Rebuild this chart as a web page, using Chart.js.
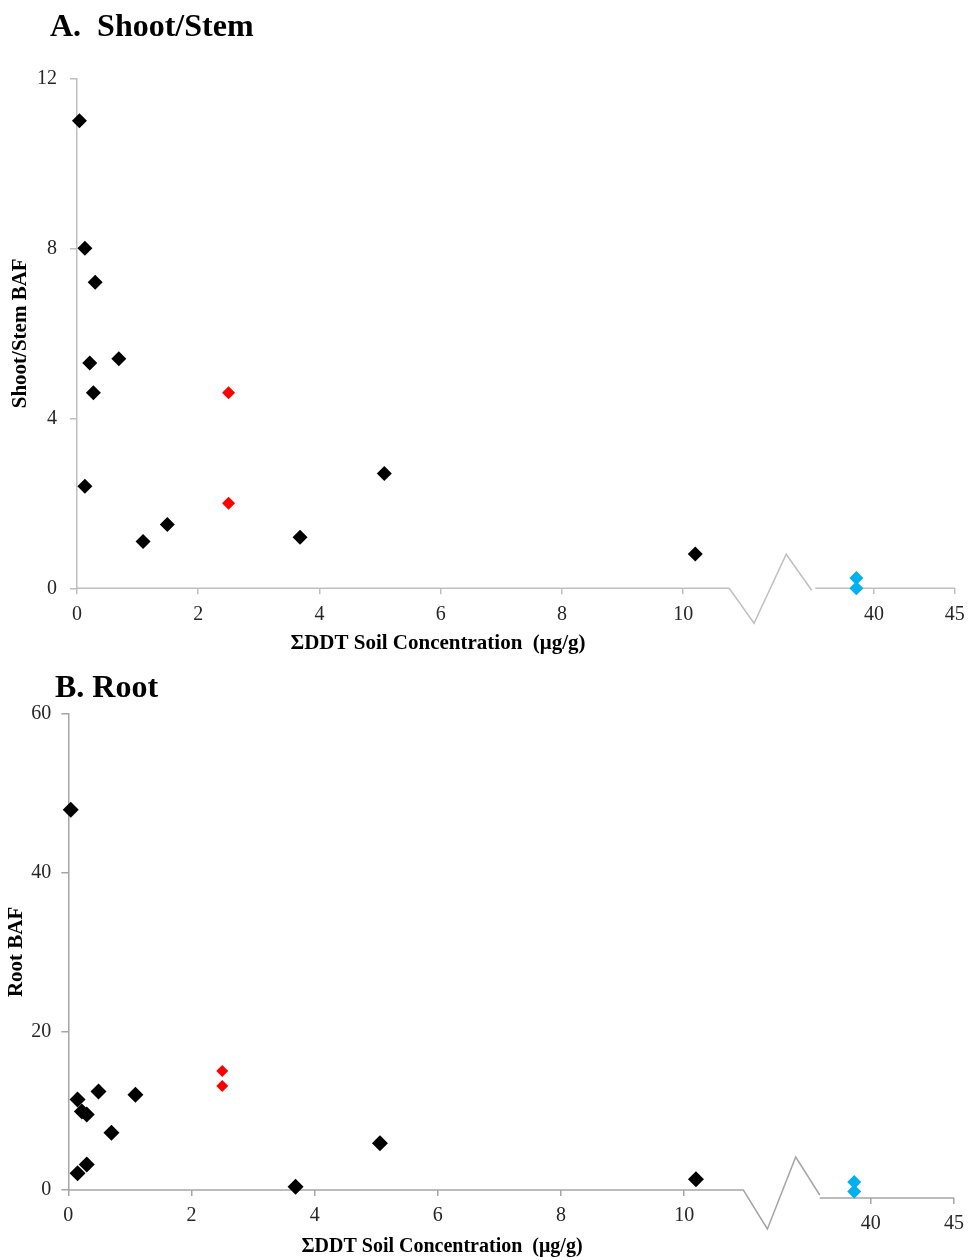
<!DOCTYPE html>
<html>
<head>
<meta charset="utf-8">
<title>BAF vs soil DDT</title>
<script src="https://cdn.jsdelivr.net/npm/chart.js@4/dist/chart.umd.min.js"></script>
<style>
  body { margin: 0; background: #fff; }
  canvas { display: block; }
</style>
</head>
<body>
<canvas id="chartShoot" width="968" height="660"></canvas>
<canvas id="chartRoot" width="968" height="600"></canvas>
<script>
// soil ΣDDT (ug/g) against bioaccumulation factor
const shootSoil = [0.04, 0.13, 0.30, 0.21, 0.69, 0.27, 0.13, 1.09, 1.49, 3.68, 5.07, 10.2];
const shootBaf = [11.0, 8.0, 7.2, 5.3, 5.4, 4.6, 2.4, 1.1, 1.5, 1.2, 2.7, 0.81];
const shootRedSoil = [2.5, 2.5];
const shootRedBaf = [4.6, 2.0];
const shootBlueSoil = [38.9, 38.9];
const shootBlueBaf = [0.24, 0.0];

const rootSoil = [0.04, 0.15, 0.22, 0.30, 0.49, 1.09, 0.70, 0.30, 0.15, 3.69, 5.06, 10.19];
const rootBaf = [47.9, 11.4, 9.9, 9.5, 12.4, 12.0, 7.2, 3.2, 2.1, 0.4, 5.9, 1.35];
const rootRedSoil = [2.5, 2.5];
const rootRedBaf = [15.0, 13.1];
const rootBlueSoil = [39.0, 39.0];
const rootBlueBaf = [1.0, -0.2];

const xTicksLow = [0, 2, 4, 6, 8, 10];
const xTicksHigh = [40, 45];
const shootYTicks = [0, 4, 8, 12];
const rootYTicks = [0, 20, 40, 60];

const serif = "'Liberation Serif', 'Times New Roman', serif";
const xTitle = "ΣDDT Soil Concentration  (μg/g)";

// everything past the break gets squeezed into [hiStart, hiEnd]
function brokenAxis(hiStart, hiEnd) {
  const k = (hiEnd - hiStart) / (xTicksHigh[1] - xTicksHigh[0]);
  return (v) => (v < 20 ? v : hiStart + (v - xTicksHigh[0]) * k);
}

function points(xs, ys, toDisp) {
  return xs.map((x, i) => ({ x: toDisp(x), y: ys[i] }));
}

// keep the plot area exactly where layout.padding puts it
function noOverflow(scale) {
  scale.paddingLeft = 0;
  scale.paddingRight = 0;
  scale.paddingTop = 0;
  scale.paddingBottom = 0;
}

// gray x axis line with the zigzag break
const brokenAxisLine = {
  id: "brokenAxisLine",
  beforeDatasetsDraw(chart, args, opts) {
    const { ctx, chartArea, scales } = chart;
    const x = scales.x;
    const y0 = scales.y.getPixelForValue(0);
    const yr = scales.y.getPixelForValue(opts.rightBase);
    ctx.save();
    ctx.strokeStyle = opts.color;
    ctx.lineWidth = 1.5;
    ctx.beginPath();
    ctx.moveTo(chartArea.left, y0);
    ctx.lineTo(x.getPixelForValue(opts.zig[0][0]), y0);
    opts.zig.slice(1).forEach(([dx, dy]) => {
      ctx.lineTo(x.getPixelForValue(dx), y0 + dy);
    });
    ctx.stroke();
    ctx.beginPath();
    ctx.moveTo(x.getPixelForValue(opts.resume), yr);
    ctx.lineTo(chartArea.right, yr);
    ctx.stroke();
    ctx.restore();
  },
};

// panel heading and x axis title
const panelText = {
  id: "panelText",
  afterDraw(chart, args, opts) {
    const ctx = chart.ctx;
    ctx.save();
    ctx.fillStyle = "#000";
    ctx.textBaseline = "alphabetic";
    ctx.font = "bold 32px " + serif;
    ctx.textAlign = "left";
    ctx.fillText(opts.heading, opts.headingX, opts.headingY);
    ctx.font = "bold " + opts.titleSize + "px " + serif;
    ctx.textAlign = "center";
    ctx.fillText(xTitle, opts.titleX, opts.titleY);
    ctx.restore();
  },
};

function makeChart(canvasId, setup) {
  const toDisp = brokenAxis(setup.hiStart, setup.hiEnd);
  const yTicks = setup.yTicks;
  const tickFont = { family: serif, size: 20 };

  const datasets = [
    { data: points(setup.black[0], setup.black[1], toDisp), backgroundColor: "#000", pointRadius: setup.blackR },
    { data: points(setup.red[0], setup.red[1], toDisp), backgroundColor: "#ff0000", pointRadius: setup.redR },
    { data: points(setup.blue[0], setup.blue[1], toDisp), backgroundColor: "#00b0f0", pointRadius: setup.blueR },
  ].map((d) => ({ ...d, pointStyle: "rectRot", borderWidth: 0, clip: false }));

  const xCommon = {
    type: "linear",
    min: 0,
    max: setup.hiEnd,
    border: { display: false },
    grid: { drawOnChartArea: false, drawTicks: true, tickLength: 6, color: setup.axisColor, lineWidth: 1.5 },
    ticks: { font: tickFont, color: "#262626", padding: 8, autoSkip: false, maxRotation: 0 },
  };

  return new Chart(document.getElementById(canvasId), {
    type: "scatter",
    data: { datasets: datasets },
    options: {
      responsive: false,
      animation: false,
      events: [],
      layout: { padding: { top: setup.top, right: setup.right, left: 0, bottom: 0 } },
      scales: {
        x: {
          ...xCommon,
          position: "bottom",
          afterFit: (scale) => { scale.height = setup.bottom; noOverflow(scale); },
          afterBuildTicks: (scale) => { scale.ticks = xTicksLow.map((v) => ({ value: toDisp(v) })); },
          ticks: { ...xCommon.ticks, callback: (val, i) => String(xTicksLow[i]) },
        },
        x2: {
          ...xCommon,
          position: { y: setup.rightBase },
          afterFit: noOverflow,
          afterBuildTicks: (scale) => { scale.ticks = xTicksHigh.map((v) => ({ value: toDisp(v) })); },
          ticks: { ...xCommon.ticks, callback: (val, i) => String(xTicksHigh[i]) },
        },
        y: {
          type: "linear",
          min: yTicks[0],
          max: yTicks[yTicks.length - 1],
          afterFit: (scale) => { scale.width = setup.left; noOverflow(scale); },
          afterBuildTicks: (scale) => { scale.ticks = yTicks.map((v) => ({ value: v })); },
          border: { display: true, color: setup.axisColor, width: 1.5 },
          grid: { drawOnChartArea: false, drawTicks: true, tickLength: 7, color: setup.axisColor, lineWidth: 1.5 },
          ticks: { font: tickFont, color: "#262626", padding: setup.yPad },
          title: {
            display: true,
            text: setup.yTitle,
            color: "#000",
            font: { family: serif, size: 21, weight: "bold" },
            padding: { top: setup.yTitlePad, bottom: 0 },
          },
        },
      },
      plugins: {
        legend: { display: false },
        tooltip: { enabled: false },
        brokenAxisLine: { color: setup.axisColor, zig: setup.zig, resume: setup.resume, rightBase: setup.rightBase },
        panelText: setup.text,
      },
    },
    plugins: [brokenAxisLine, panelText],
  });
}

makeChart("chartShoot", {
  black: [shootSoil, shootBaf],
  red: [shootRedSoil, shootRedBaf],
  blue: [shootBlueSoil, shootBlueBaf],
  blackR: 7.5, redR: 6.5, blueR: 7,
  yTicks: shootYTicks,
  yTitle: "Shoot/Stem BAF",
  hiStart: 13.15, hiEnd: 14.48,
  top: 78.3, right: 13.3, bottom: 71.7, left: 77,
  yPad: 13, yTitlePad: 8,
  axisColor: "#bfbfbf",
  zig: [[10.76, 0], [11.17, 35], [11.70, -34], [12.12, 2]],
  resume: 12.18,
  rightBase: 0,
  text: { heading: "A.  Shoot/Stem", headingX: 50, headingY: 36, titleX: 438, titleY: 649, titleSize: 21 },
});

makeChart("chartRoot", {
  black: [rootSoil, rootBaf],
  red: [rootRedSoil, rootRedBaf],
  blue: [rootBlueSoil, rootBlueBaf],
  blackR: 8, redR: 6, blueR: 7,
  yTicks: rootYTicks,
  yTitle: "Root BAF",
  hiStart: 13.03, hiEnd: 14.38,
  top: 53.8, right: 14, bottom: 70, left: 68.3,
  yPad: 10, yTitlePad: 4,
  axisColor: "#a6a6a6",
  zig: [[10.96, 0], [11.35, 39], [11.81, -33], [12.20, 5]],
  resume: 12.20,
  rightBase: -1,
  text: { heading: "B. Root", headingX: 55, headingY: 37, titleX: 442, titleY: 592, titleSize: 20 },
});
</script>
</body>
</html>
